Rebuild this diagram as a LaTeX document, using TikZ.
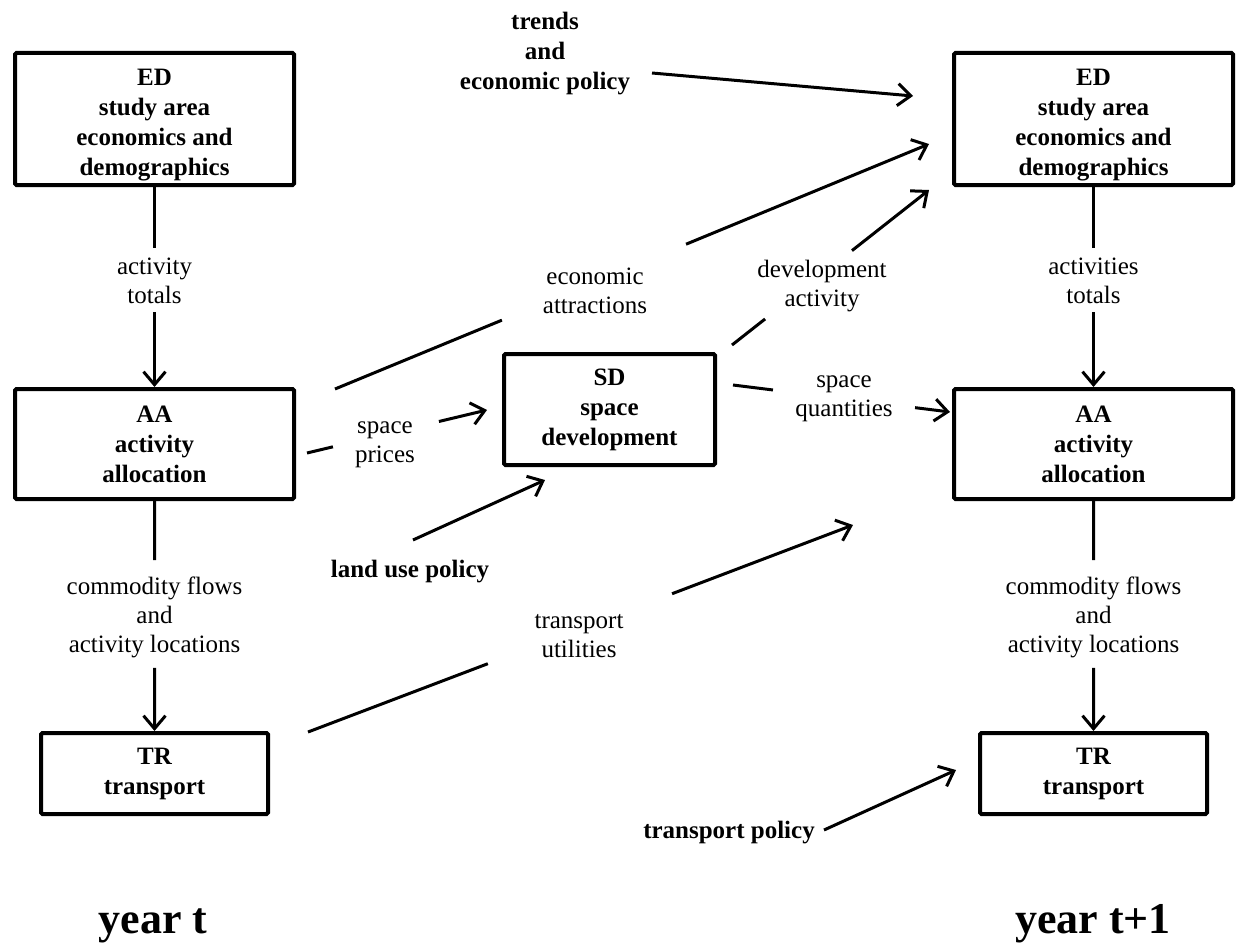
\documentclass[tikz,border=0pt]{standalone}
\usepackage{fontspec}
\setmainfont{Liberation Serif}
\usetikzlibrary{arrows.meta,calc}
\begin{document}
\begin{tikzpicture}[x=1pt,y=-1pt,
  box/.style={draw=black, line width=4pt, rounded corners=1.5pt, align=center, inner sep=0pt, font=\bfseries\fontsize{25}{30}\selectfont},
  edbox/.style={box, minimum width=279pt, minimum height=132pt},
  aabox/.style={box, minimum width=279pt, minimum height=110pt},
  trbox/.style={box, minimum width=227pt, minimum height=81pt},
  sdbox/.style={box, minimum width=211pt, minimum height=111pt},
  lab/.style={align=center, inner sep=0pt, font=\fontsize{25}{29}\selectfont},
  pol/.style={align=center, inner sep=0pt, font=\bfseries\fontsize{25}{30}\selectfont},
  yr/.style={inner sep=0pt, anchor=base, font=\bfseries\fontsize{44}{50}\selectfont},
  ln/.style={line width=3pt},
  arr/.style={line width=3pt, -{Straight Barb[length=13pt,width=22pt]}}
]
\useasboundingbox (0,0) rectangle (1238,947);

% boxes
\node[edbox] (EDL) at (154.5,119) {\rule{0pt}{29pt}ED\\study area\\economics and\\demographics};
\node[aabox] (AAL) at (154.5,444) {AA\\activity\\allocation};
\node[trbox] (TRL) at (154.5,773.5) {TR\\transport};
\node[sdbox] (SD) at (609.5,409.5) {SD\\space\\development};
\node[edbox] (EDR) at (1093.5,119) {\rule{0pt}{29pt}ED\\study area\\economics and\\demographics};
\node[aabox] (AAR) at (1093.5,444) {AA\\activity\\allocation};
\node[trbox] (TRR) at (1093.5,773.5) {TR\\transport};

% labels
\node[lab] (lAT) at (154.5,281) {activity\\totals};
\node[lab] (lCF) at (154.5,617) {commodity flows\\and\\activity locations};
\node[lab] (rAT) at (1093.5,281) {activities\\totals};
\node[lab] (rCF) at (1093.5,617) {commodity flows\\and\\activity locations};
\node[lab] (lSP) at (385,445) {space\\prices};
\node[lab] (lEA) at (595,291) {economic\\attractions};
\node[lab] (lDA) at (822,286) {development\\activity};
\node[lab] (lSQ) at (844,399) {space\\quantities};
\node[lab] (lTU) at (579,636) {transport\\utilities};
\node[pol] (trends) at (545,54) {trends\\and\\economic policy};
\node[pol] (landuse) at (410,572) {land use policy};
\node[pol] (tpol) at (729,833) {transport policy};
\node[yr] (yt) at (153,933) {year t};
\node[yr] (yt1) at (1093,933) {year t+1};

% vertical connectors
\draw[ln] (EDL.south) -- ($(EDL.south)!0.305!(AAL.north)$);
\draw[arr] ($(EDL.south)!0.625!(AAL.north)$) -- (AAL.north);
\draw[ln] (AAL.south) -- ($(AAL.south)!0.257!(TRL.north)$);
\draw[arr] ($(AAL.south)!0.726!(TRL.north)$) -- (TRL.north);
\draw[ln] (EDR.south) -- ($(EDR.south)!0.305!(AAR.north)$);
\draw[arr] ($(EDR.south)!0.625!(AAR.north)$) -- (AAR.north);
\draw[ln] (AAR.south) -- ($(AAR.south)!0.257!(TRR.north)$);
\draw[arr] ($(AAR.south)!0.726!(TRR.north)$) -- (TRR.north);

% connector end points
\coordinate (e1) at ([shift={(11,9)}]AAL.east);
\coordinate (e2) at ([shift={(-15,0.5)}]SD.west);
\coordinate (f1) at ([shift={(15,-7)}]SD.north east);
\coordinate (f2) at ([shift={(-23,3)}]EDR.south west);
\coordinate (g1) at ([shift={(16,-24.5)}]SD.east);
\coordinate (g2) at ([shift={(-2,-32)}]AAR.west);
\coordinate (h1) at ([shift={(39,2)}]AAL.north east);
\coordinate (h2) at ([shift={(-23,25)}]EDR.west);
\coordinate (i1) at ([shift={(107,19)}]trends.center);
\coordinate (i2) at ([shift={(-39,-23)}]EDR.west);
\coordinate (j1) at ([shift={(3,-32)}]landuse.center);
\coordinate (j2) at ([shift={(-64.5,13)}]SD.south);
\coordinate (k1) at ([shift={(38,1)}]TRL.north east);
\coordinate (k2) at ([shift={(-99,24)}]AAR.south west);
\coordinate (l1) at ([shift={(95,-3)}]tpol.center);
\coordinate (l2) at ([shift={(-22,-3.5)}]TRR.west);

% space prices
\draw[ln] (e1) -- ($(e1)!0.144!(e2)$);
\draw[arr] ($(e1)!0.733!(e2)$) -- (e2);
% development activity
\draw[ln] (f1) -- ($(f1)!0.168!(f2)$);
\draw[arr] ($(f1)!0.609!(f2)$) -- (f2);
% space quantities
\draw[ln] (g1) -- ($(g1)!0.184!(g2)$);
\draw[arr] ($(g1)!0.839!(g2)$) -- (g2);
% economic attractions
\draw[ln] (h1) -- ($(h1)!0.281!(h2)$);
\draw[arr] ($(h1)!0.591!(h2)$) -- (h2);
% trends
\draw[arr] (i1) -- (i2);
% land use policy
\draw[arr] (j1) -- (j2);
% transport utilities
\draw[ln] (k1) -- ($(k1)!0.330!(k2)$);
\draw[arr] ($(k1)!0.668!(k2)$) -- (k2);
% transport policy
\draw[arr] (l1) -- (l2);
\end{tikzpicture}
\end{document}
